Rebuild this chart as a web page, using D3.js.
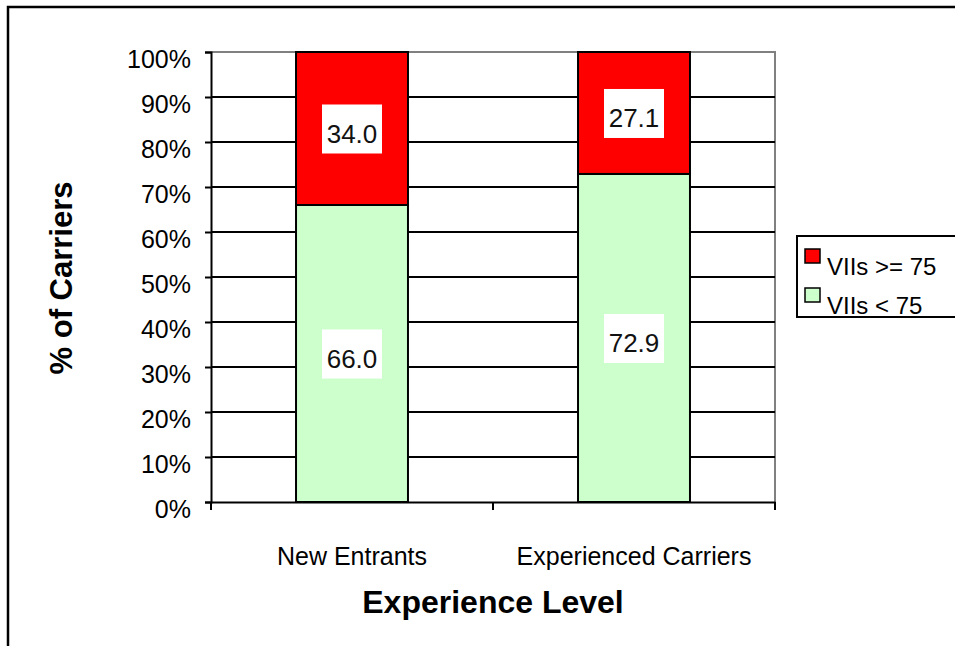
<!DOCTYPE html>
<html>
<head>
<meta charset="utf-8">
<script src="https://cdn.jsdelivr.net/npm/d3@7"></script>
<style>
  body { margin: 0; background: #fff; }
  svg text { font-family: "Liberation Sans", Arial, sans-serif; }
</style>
</head>
<body>
<div id="chart"></div>
<script>
// data
var categories = ["New Entrants", "Experienced Carriers"];
var seriesNames = ["VIIs < 75", "VIIs >= 75"];
var below75 = [66.0, 72.9];
var above75 = [34.0, 27.1];
var yTicks = [0, 10, 20, 30, 40, 50, 60, 70, 80, 90, 100];
var colors = ["#CCFFCC", "#FF0000"];

var width = 955,
	height = 646;

var svg = d3.select("#chart").append("svg")
	.attr("width", width)
	.attr("height", height);

// outer frame (runs off the right and bottom edge)
svg.append("rect")
	.attr("x", 8).attr("y", 7)
	.attr("width", 1000).attr("height", 700)
	.attr("fill", "white")
	.attr("stroke", "black")
	.attr("stroke-width", 2.5);

var plot = {left: 211, top: 52, right: 775, bottom: 502};

var x = d3.scaleBand()
	.domain(categories)
	.range([plot.left, plot.right]);

var y = d3.scaleLinear()
	.domain([0, 100])
	.range([plot.bottom, plot.top]);

// plot area border, gray on top & right
svg.append("path")
	.attr("d", "M" + plot.left + "," + plot.top + "H" + plot.right + "V" + plot.bottom)
	.attr("fill", "none")
	.attr("stroke", "#808080")
	.attr("stroke-width", 2);

// gridlines
svg.append("g")
	.selectAll("line")
	.data(yTicks.filter(function(d){ return d > 0 && d < 100; }))
	.enter().append("line")
		.attr("x1", plot.left).attr("x2", plot.right)
		.attr("y1", function(d){ return y(d); })
		.attr("y2", function(d){ return y(d); })
		.attr("stroke", "black")
		.attr("stroke-width", 2);

// stacked bars
var stackData = categories.map(function(c, i){
	return {cat: c, "VIIs < 75": below75[i], "VIIs >= 75": above75[i]};
});
var stack = d3.stack().keys(seriesNames);
var layers = stack(stackData);

var barW = x.bandwidth() * 0.397;

layers.forEach(function(layer, li){
	var g = svg.append("g");
	g.selectAll("rect")
		.data(layer)
		.enter().append("rect")
			.attr("x", function(d){ return x(d.data.cat) + x.bandwidth() / 2 - barW / 2; })
			.attr("y", function(d){ return y(d[1]); })
			.attr("width", barW)
			.attr("height", function(d){ return y(d[0]) - y(d[1]); })
			.attr("fill", colors[li])
			.attr("stroke", "black")
			.attr("stroke-width", 2);

	// value labels with white boxes
	var lab = g.selectAll(".lab")
		.data(layer)
		.enter().append("g")
			.attr("class", "lab")
			.attr("transform", function(d){
				return "translate(" + (x(d.data.cat) + x.bandwidth() / 2) + "," + ((y(d[0]) + y(d[1])) / 2 + 1) + ")";
			});
	lab.append("rect")
		.attr("x", -30).attr("y", -25)
		.attr("width", 60).attr("height", 49)
		.attr("fill", "white");
	lab.append("text")
		.attr("text-anchor", "middle")
		.attr("y", 13)
		.attr("font-size", 26)
		.attr("fill", "#111")
		.text(function(d){ return (d[1] - d[0]).toFixed(1); });
});

// y axis
var yAxis = d3.axisLeft(y)
	.tickValues(yTicks)
	.tickSize(6)
	.tickPadding(14)
	.tickFormat(function(d){ return d + "%"; });

var yg = svg.append("g")
	.attr("transform", "translate(" + plot.left + ",0)")
	.call(yAxis);
yg.select(".domain").attr("stroke", "black").attr("stroke-width", 2);
yg.selectAll(".tick line").attr("stroke", "black").attr("stroke-width", 2);
yg.selectAll(".tick text")
	.attr("font-size", 25)
	.attr("font-family", "Liberation Sans, Arial, sans-serif")
	.attr("fill", "black")
	.attr("dy", "0.62em");

// x axis
var xAxis = d3.axisBottom(x)
	.tickSize(0)
	.tickPadding(45);

var xg = svg.append("g")
	.attr("transform", "translate(0," + plot.bottom + ")")
	.call(xAxis);
xg.select(".domain").attr("stroke", "black").attr("stroke-width", 2);
xg.selectAll(".tick text")
	.attr("font-size", 25)
	.attr("font-family", "Liberation Sans, Arial, sans-serif")
	.attr("fill", "black");

// x tick marks sit between categories
xg.selectAll(".sep")
	.data([plot.left, x(categories[1]), plot.right])
	.enter().append("line")
		.attr("class", "sep")
		.attr("x1", function(d){ return d; })
		.attr("x2", function(d){ return d; })
		.attr("y1", 0).attr("y2", 8)
		.attr("stroke", "black")
		.attr("stroke-width", 2);

// axis titles
svg.append("text")
	.attr("transform", "translate(72," + ((plot.top + plot.bottom) / 2 + 1) + ") rotate(-90)")
	.attr("text-anchor", "middle")
	.attr("font-size", 31)
	.attr("font-weight", "bold")
	.text("% of Carriers");

svg.append("text")
	.attr("x", (plot.left + plot.right) / 2)
	.attr("y", 613)
	.attr("text-anchor", "middle")
	.attr("font-size", 32)
	.attr("font-weight", "bold")
	.text("Experience Level");

// legend
var legend = svg.append("g");
legend.append("rect")
	.attr("x", 797).attr("y", 236)
	.attr("width", 200).attr("height", 81)
	.attr("fill", "white")
	.attr("stroke", "black")
	.attr("stroke-width", 2);

var legendItems = [
	{name: seriesNames[1], color: colors[1]},
	{name: seriesNames[0], color: colors[0]}
];

var li = legend.selectAll(".item")
	.data(legendItems)
	.enter().append("g")
		.attr("class", "item")
		.attr("transform", function(d, i){ return "translate(805," + (249 + i * 39) + ")"; });
li.append("rect")
	.attr("width", 15).attr("height", 14)
	.attr("fill", function(d){ return d.color; })
	.attr("stroke", "black")
	.attr("stroke-width", 1.5);
li.append("text")
	.attr("x", 22)
	.attr("y", 26)
	.attr("font-size", 24)
	.text(function(d){ return d.name; });
</script>
</body>
</html>
